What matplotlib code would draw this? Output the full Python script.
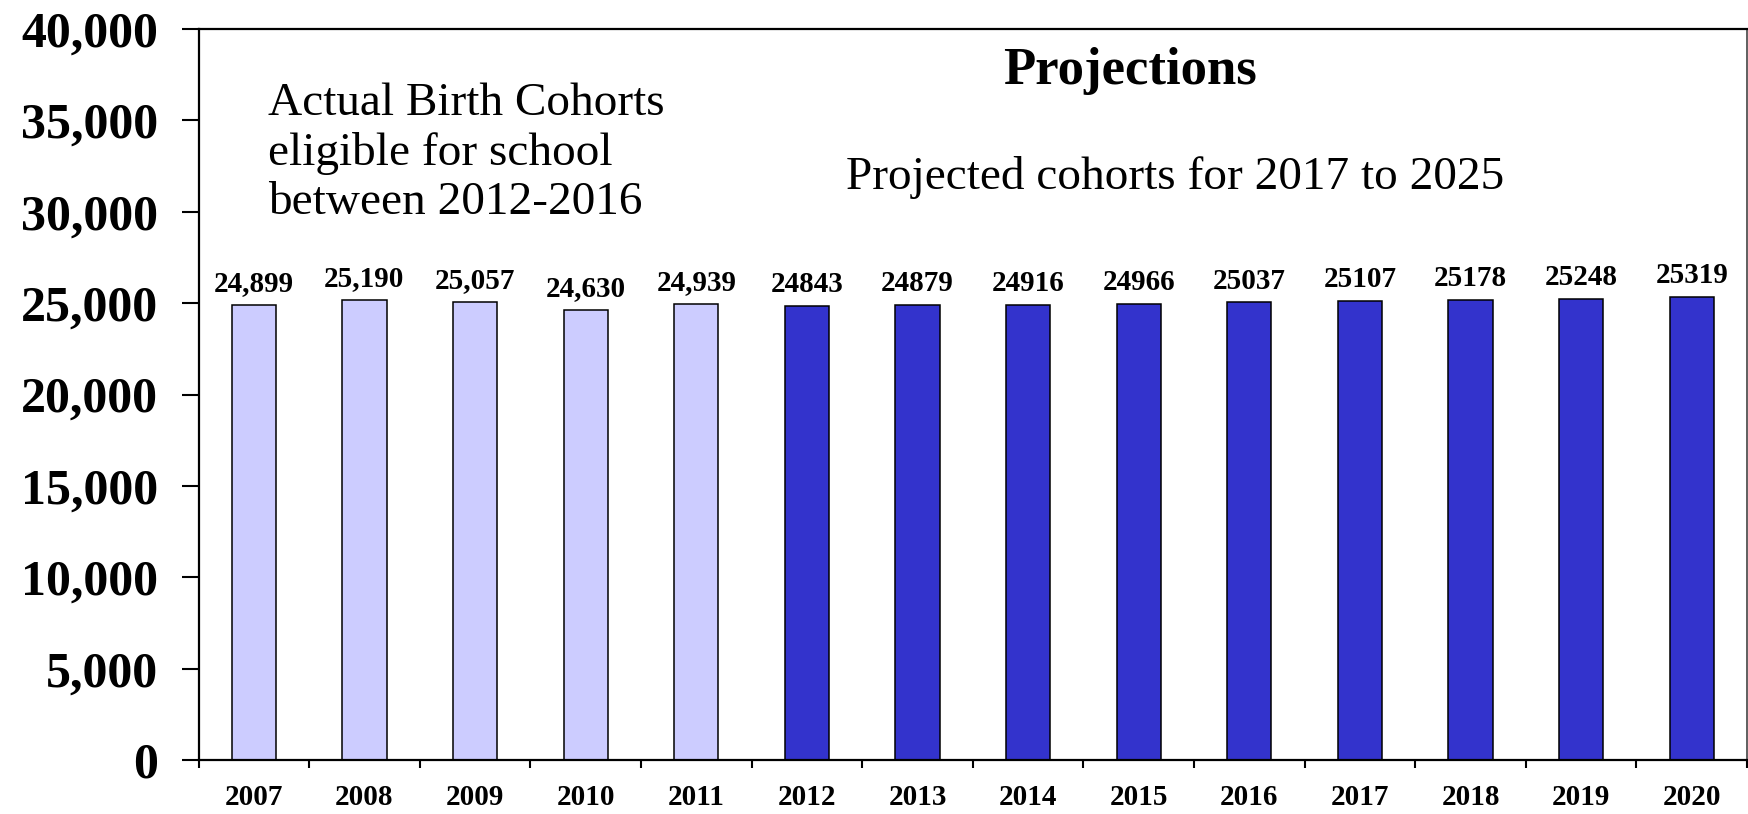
import numpy as np
import matplotlib.pyplot as plt
from matplotlib.ticker import FixedLocator, FuncFormatter

plt.rcParams['font.family'] = ['Liberation Serif', 'DejaVu Serif']

years = ['2007', '2008', '2009', '2010', '2011', '2012', '2013',
         '2014', '2015', '2016', '2017', '2018', '2019', '2020']
cohorts = [24899, 25190, 25057, 24630, 24939, 24843, 24879,
           24916, 24966, 25037, 25107, 25178, 25248, 25319]
# first five are actual birth cohorts, the rest are projections
n_actual = 5

light_blue = '#CCCCFF'
dark_blue = '#3333CC'

fig = plt.figure(figsize=(17.49, 8.14), dpi=100)
ax = fig.add_axes([0.1135, 0.0663, 0.8854, 0.8981])

x = np.arange(len(years))
colors = [light_blue if i < n_actual else dark_blue for i in range(len(years))]
ax.bar(x, cohorts, width=0.40, color=colors, edgecolor='black', linewidth=1.1, zorder=2)

for i, v in enumerate(cohorts):
    label = f'{v:,}' if i < n_actual else str(v)
    ax.annotate(label, (x[i], v), xytext=(0, 10), textcoords='offset points',
                ha='center', va='baseline', fontsize=21, fontweight='bold')

ax.set_xlim(-0.5, len(years) - 0.5)
ax.set_ylim(0, 40000)

# y axis
ax.set_yticks(np.arange(0, 40001, 5000))
ax.yaxis.set_major_formatter(FuncFormatter(lambda v, p: f'{int(v):,}'))
ax.tick_params(axis='y', direction='out', length=12, width=1.5, pad=17,
               labelsize=36)
for t in ax.get_yticklabels():
    t.set_fontweight('bold')

# x axis: labels under the bars, tick marks between categories
ax.set_xticks(x)
ax.set_xticklabels(years, fontsize=21, fontweight='bold')
ax.xaxis.set_minor_locator(FixedLocator(np.arange(-0.5, len(years), 1.0)))
ax.tick_params(axis='x', which='major', length=0, pad=17)
ax.tick_params(axis='x', which='minor', direction='out', length=6, width=1.5)

for side in ['left', 'bottom', 'top']:
    ax.spines[side].set_linewidth(1.6)
ax.spines['right'].set_linewidth(1.2)
ax.spines['right'].set_color('#444444')

ax.text(0.128, 33215, 'Actual Birth Cohorts\neligible for school\nbetween 2012-2016',
        ha='left', va='center', fontsize=34, linespacing=1.2)
ax.text(7.92, 37700, 'Projections', ha='center', va='center',
        fontsize=38, fontweight='bold')
ax.text(8.33, 31900, 'Projected cohorts for 2017 to 2025', ha='center',
        va='center', fontsize=34)

fig.savefig('out.png', dpi=100)
